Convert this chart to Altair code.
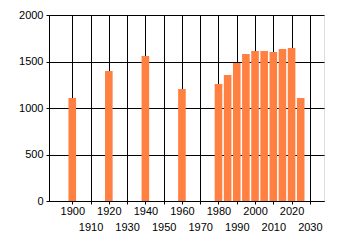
import altair as alt
import pandas as pd

years = [1900, 1920, 1940, 1960, 1980, 1985, 1990, 1995, 2000, 2005, 2010, 2015, 2020, 2025]
values = [1107, 1398, 1559, 1204, 1258, 1355, 1484, 1581, 1613, 1613, 1602, 1634, 1645, 1107]
x_ticks = list(range(1900, 2031, 10))
y_ticks = [0, 500, 1000, 1500, 2000]

df = pd.DataFrame({"year": years, "value": values})

axis_common = dict(
    grid=True, gridColor="#000000", gridOpacity=1, gridWidth=1,
    domainColor="#000000", domainWidth=1,
    tickColor="#000000", tickSize=3, tickWidth=1,
    labelColor="#000000", labelFont="Liberation Sans", labelFontSize=11,
    title=None, format="d",
)

chart = alt.Chart(df).mark_bar(color="#ff8040", size=7.6).encode(
    x=alt.X("year:Q",
            scale=alt.Scale(domain=[1890, 2035], nice=False, zero=False),
            axis=alt.Axis(values=x_ticks, labelPadding=1,
                          labelLineHeight=16, labelBaseline="top",
                          labelFlush=False, labelOverlap=False,
                          labelExpr="(datum.value % 20 == 0) ? datum.label : ['', datum.label]",
                          **axis_common)),
    y=alt.Y("value:Q",
            scale=alt.Scale(domain=[0, 2000], nice=False),
            axis=alt.Axis(values=y_ticks, labelPadding=3, labelFlush=False,
                          labelOverlap=False, **axis_common)),
).properties(
    width=275, height=186,
    autosize=alt.AutoSizeParams(type="none"),
    padding={"left": 49, "top": 15, "right": 16, "bottom": 44},
).configure_view(stroke=None).configure(background="#ffffff")

chart.save("out.html", embed_options={"renderer": "svg", "actions": False})
